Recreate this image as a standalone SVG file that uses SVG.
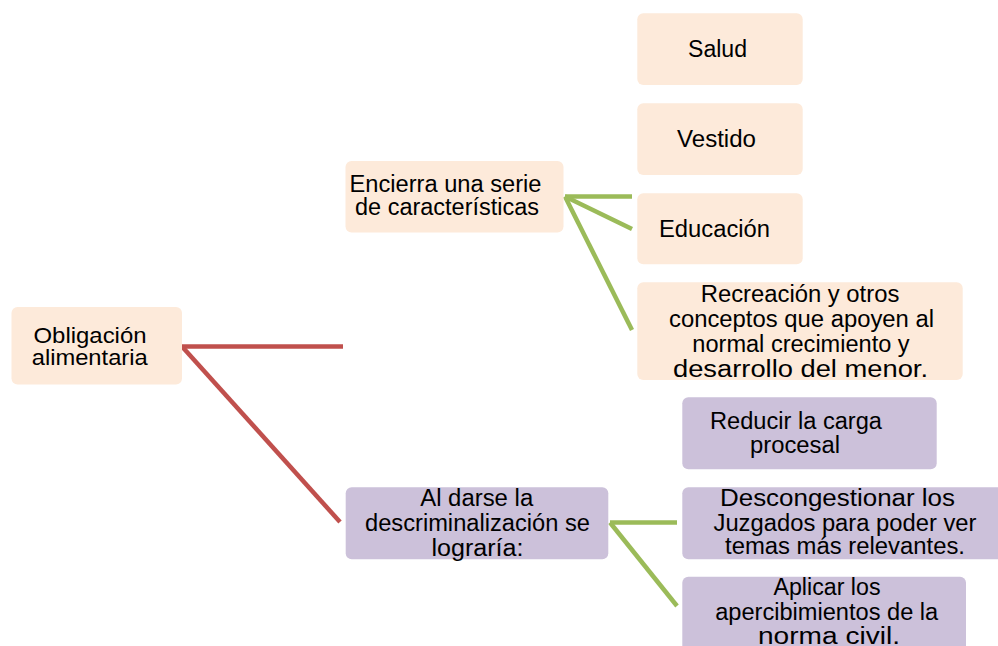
<svg xmlns="http://www.w3.org/2000/svg" width="998" height="646" viewBox="0 0 998 646">
<style>
.peach{fill:#FDEADA;}
.lav{fill:#CCC1DA;}
text{font-family:"Liberation Sans",Arial,sans-serif;font-size:23px;fill:#000;text-anchor:middle;}
.sm{font-size:22px;}
.red{stroke:#C0504D;stroke-width:4.5;fill:none;}
.grn{stroke:#9BBB59;stroke-width:4.5;fill:none;}
</style>
<rect width="998" height="646" fill="#fff"/>
<g id="connectors">
<line class="red" x1="182" y1="346.5" x2="343" y2="346.5"/>
<line class="red" x1="182" y1="346.5" x2="340" y2="522"/>
<line class="grn" x1="565" y1="196.5" x2="632" y2="196.5"/>
<line class="grn" x1="565" y1="196.5" x2="632" y2="229"/>
<line class="grn" x1="565" y1="196.5" x2="632" y2="330"/>
<line class="grn" x1="610" y1="522.5" x2="677" y2="522.5"/>
<line class="grn" x1="610" y1="522.5" x2="677" y2="606"/>
</g>
<g id="n-obligacion">
<rect class="peach" x="11.5" y="307" width="170.5" height="77.5" rx="6"/>
<text class="sm" x="90" y="342.7" textLength="113" lengthAdjust="spacingAndGlyphs">Obligación</text>
<text class="sm" x="89.7" y="365" textLength="116" lengthAdjust="spacingAndGlyphs">alimentaria</text>
</g>
<g id="n-encierra">
<rect class="peach" x="345.5" y="161" width="218" height="71.5" rx="6"/>
<text x="445.5" y="191.7" textLength="192" lengthAdjust="spacingAndGlyphs">Encierra una serie</text>
<text x="447" y="215" textLength="184" lengthAdjust="spacingAndGlyphs">de características</text>
</g>
<g id="n-salud">
<rect class="peach" x="637.3" y="13.3" width="165.4" height="71.7" rx="6"/>
<text x="717.5" y="56.7" textLength="59" lengthAdjust="spacingAndGlyphs">Salud</text>
</g>
<g id="n-vestido">
<rect class="peach" x="637.3" y="103.3" width="165.4" height="71.7" rx="6"/>
<text x="716.5" y="147.3" textLength="79" lengthAdjust="spacingAndGlyphs">Vestido</text>
</g>
<g id="n-educacion">
<rect class="peach" x="637.3" y="193.3" width="165.4" height="71" rx="6"/>
<text x="714.5" y="236.7" textLength="111" lengthAdjust="spacingAndGlyphs">Educación</text>
</g>
<g id="n-recreacion">
<rect class="peach" x="637.3" y="282.3" width="325.4" height="97.7" rx="6"/>
<text x="800" y="301.7" textLength="198.6" lengthAdjust="spacingAndGlyphs">Recreación y otros</text>
<text x="801.5" y="326.7" textLength="265" lengthAdjust="spacingAndGlyphs">conceptos que apoyen al</text>
<text x="801" y="351.7" textLength="217.3" lengthAdjust="spacingAndGlyphs">normal crecimiento y</text>
<text x="800.5" y="376.7" textLength="255" lengthAdjust="spacingAndGlyphs">desarrollo del menor.</text>
</g>
<g id="n-aldarse">
<rect class="lav" x="345.7" y="487.3" width="262.6" height="72" rx="6"/>
<text x="476.7" y="505.5" textLength="113" lengthAdjust="spacingAndGlyphs">Al darse la</text>
<text x="477.5" y="531" textLength="225" lengthAdjust="spacingAndGlyphs">descriminalización se</text>
<text x="477.5" y="555.5" textLength="92" lengthAdjust="spacingAndGlyphs">lograría:</text>
</g>
<g id="n-reducir">
<rect class="lav" x="682.3" y="397.3" width="254.4" height="72" rx="6"/>
<text x="796" y="429.3" textLength="172" lengthAdjust="spacingAndGlyphs">Reducir la carga</text>
<text x="795" y="453.3" textLength="90" lengthAdjust="spacingAndGlyphs">procesal</text>
</g>
<g id="n-descongestionar">
<rect class="lav" x="682.3" y="487.3" width="322" height="72" rx="6"/>
<text x="837.5" y="506" textLength="235" lengthAdjust="spacingAndGlyphs">Descongestionar los</text>
<text x="845" y="530.5" textLength="263" lengthAdjust="spacingAndGlyphs">Juzgados para poder ver</text>
<text x="845" y="554" textLength="240" lengthAdjust="spacingAndGlyphs">temas más relevantes.</text>
</g>
<g id="n-aplicar">
<rect class="lav" x="682.3" y="576.7" width="283.7" height="80" rx="6"/>
<text x="827" y="595" textLength="107" lengthAdjust="spacingAndGlyphs">Aplicar los</text>
<text x="826.7" y="620" textLength="223" lengthAdjust="spacingAndGlyphs">apercibimientos de la</text>
<text x="829" y="643.5" textLength="142" lengthAdjust="spacingAndGlyphs">norma civil.</text>
</g>
</svg>
